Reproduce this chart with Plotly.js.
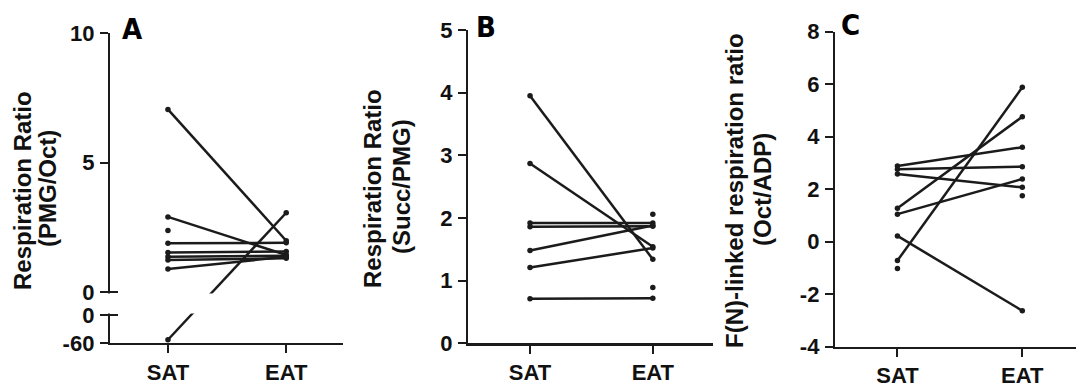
<!DOCTYPE html>
<html>
<head>
<meta charset="utf-8">
<script src="https://cdn.plot.ly/plotly-3.0.1.min.js"></script>
<style>html,body{margin:0;padding:0;background:#fff}#chart{width:1078px;height:387px}</style>
</head>
<body>
<div id="chart"></div>
<script>
// ---- data ----
const groups = ['SAT', 'EAT'];

// Panel A: Respiration Ratio (PMG/Oct)
const aSAT = [7.05, 2.90, 1.88, 1.53, 1.36, 1.24, 0.89, -53];
const aEAT = [1.98, 1.43, 1.90, 1.56, 1.40, 1.30, 1.36, 3.06];
const aSingleSAT = [2.37];
const aTickVals = [-60, 0, 0, 5, 10];          // lower segment -60, 0 ; upper 0, 5, 10
const aTickText = ['-60', '0', '0', '5', '10'];

// Panel B: Respiration Ratio (Succ/PMG)
const bSAT = [3.95, 2.87, 1.92, 1.86, 1.48, 1.21, 0.71];
const bEAT = [1.34, 1.54, 1.92, 1.87, 1.88, 1.52, 0.72];
const bSingleEAT = [2.06, 0.89];
const bTickVals = [0, 1, 2, 3, 4, 5];

// Panel C: F(N)-linked respiration ratio (Oct/ADP)
const cSAT = [2.88, 2.76, 2.58, 1.27, 1.05, 0.22, -0.72];
const cEAT = [3.60, 2.86, 2.07, 4.76, 2.39, -2.63, 5.88];
const cSingleSAT = [-1.02];
const cSingleEAT = [1.75];
const cTickVals = [-4, -2, 0, 2, 4, 6, 8];

// ---- layout helpers ----
const W = 1078, H = 387;
const px = v => v / W;
const py = v => 1 - v / H;
const bold = s => '<b>' + s + '</b>';

// broken axis for panel A: upper segment 0..10 drawn normally,
// lower segment -60..0 compressed below a gap
const GAP = 0.888, LOWSPAN = 1.081;
const lowerU = v => -GAP + (v / 60) * LOWSPAN;
const aU = v => (v >= 0 ? v : lowerU(v));
const aTickU = aTickVals.map((v, i) => (i < 2 ? lowerU(v) : v));

const INK = '#1b1b1b';
const traces = [];
function pairs(sat, eat, xa, ya, tf) {
  tf = tf || (v => v);
  for (let i = 0; i < sat.length; i++) {
    traces.push({
      x: groups, y: [tf(sat[i]), tf(eat[i])], xaxis: xa, yaxis: ya,
      type: 'scatter', mode: 'lines+markers',
      line: {color: INK, width: 2.5}, marker: {color: INK, size: 5.5},
      showlegend: false, hoverinfo: 'skip'
    });
  }
}
function singles(vals, grp, xa, ya, tf) {
  tf = tf || (v => v);
  traces.push({
    x: vals.map(() => grp), y: vals.map(tf), xaxis: xa, yaxis: ya,
    type: 'scatter', mode: 'markers', marker: {color: INK, size: 5.5},
    showlegend: false, hoverinfo: 'skip'
  });
}
pairs(aSAT, aEAT, 'x', 'y', aU);
singles(aSingleSAT, 'SAT', 'x', 'y', aU);
pairs(bSAT, bEAT, 'x2', 'y2');
singles(bSingleEAT, 'EAT', 'x2', 'y2');
pairs(cSAT, cEAT, 'x3', 'y3');
singles(cSingleSAT, 'SAT', 'x3', 'y3');
singles(cSingleEAT, 'EAT', 'x3', 'y3');

const tickFont = {family: 'Liberation Sans, Arial, sans-serif', size: 22, color: '#111'};
function xAxis(domain, range, anchor) {
  return {
    domain: domain, range: range, anchor: anchor, type: 'category',
    categoryarray: groups, tickmode: 'array', tickvals: groups, ticktext: groups.map(bold),
    showgrid: false, zeroline: false,
    showline: true, linecolor: INK, linewidth: 2.2,
    ticks: 'outside', ticklen: 8, tickwidth: 2, tickcolor: INK,
    tickfont: tickFont, ticklabelstandoff: 0, fixedrange: true
  };
}
function yAxis(domain, range, anchor, vals, texts) {
  return {
    domain: domain, range: range, anchor: anchor, showgrid: false, zeroline: false,
    tickmode: 'array', tickvals: vals, ticktext: texts.map(bold),
    showline: true, linecolor: INK, linewidth: 2.2,
    ticks: 'outside', ticklen: 8, tickwidth: 2, tickcolor: INK,
    tickfont: tickFont, ticklabelstandoff: 1, fixedrange: true
  };
}

const titleFont = {family: 'Liberation Sans, Arial, sans-serif', size: 24, color: '#111'};
const letterFont = {family: 'Liberation Sans Narrow, DejaVu Sans Condensed, sans-serif', size: 29, color: '#000'};
function vtext(text, x, y) {
  return {text: bold(text), x: px(x), y: py(y), xref: 'paper', yref: 'paper', showarrow: false,
          textangle: -90, xanchor: 'center', yanchor: 'middle', font: titleFont};
}
function letter(text, x, y) {
  return {text: bold(text), x: px(x), y: py(y), xref: 'paper', yref: 'paper', showarrow: false,
          xanchor: 'center', yanchor: 'middle', font: letterFont};
}

const layout = {
  width: W, height: H, margin: {l: 0, r: 0, t: 0, b: 0},
  paper_bgcolor: '#fff', plot_bgcolor: 'rgba(0,0,0,0)', showlegend: false,
  xaxis: xAxis([px(110), px(343)], [-0.49, 1.48], 'y'),
  yaxis: yAxis([py(343), py(33)], [lowerU(-60), 10], 'x', aTickU, aTickText),
  xaxis2: xAxis([px(468), px(713)], [-0.505, 1.49], 'y2'),
  yaxis2: yAxis([py(343.3), py(30)], [0, 5], 'x2', bTickVals, bTickVals.map(String)),
  xaxis3: xAxis([px(835), px(1076)], [-0.5, 1.43], 'y3'),
  yaxis3: yAxis([py(346.7), py(31.7)], [-4, 8], 'x3', cTickVals, cTickVals.map(String)),
  shapes: [
    // axis break in panel A: blank out the gap between the two segments
    {type: 'rect', xref: 'paper', yref: 'y', x0: px(106), x1: px(345), y0: -0.06, y1: lowerU(0) + 0.06,
     fillcolor: '#fff', line: {width: 0}, layer: 'above'},
    {type: 'line', xref: 'paper', yref: 'y', x0: px(110), x1: px(118), y0: 0, y1: 0,
     line: {color: INK, width: 2}, layer: 'above'},
    {type: 'line', xref: 'paper', yref: 'y', x0: px(110), x1: px(118), y0: lowerU(0), y1: lowerU(0),
     line: {color: INK, width: 2}, layer: 'above'}
  ],
  annotations: [
    vtext('Respiration Ratio', 22, 191),
    vtext('(PMG/Oct)', 47, 188),
    vtext('Respiration Ratio', 372, 189),
    vtext('(Succ/PMG)', 401, 187),
    vtext('F(N)-linked respiration ratio', 734, 191),
    vtext('(Oct/ADP)', 762, 190),
    letter('A', 132, 29),
    letter('B', 486, 27),
    letter('C', 850, 25)
  ]
};

Plotly.newPlot('chart', traces, layout, {staticPlot: true, displayModeBar: false});
</script>
</body>
</html>
